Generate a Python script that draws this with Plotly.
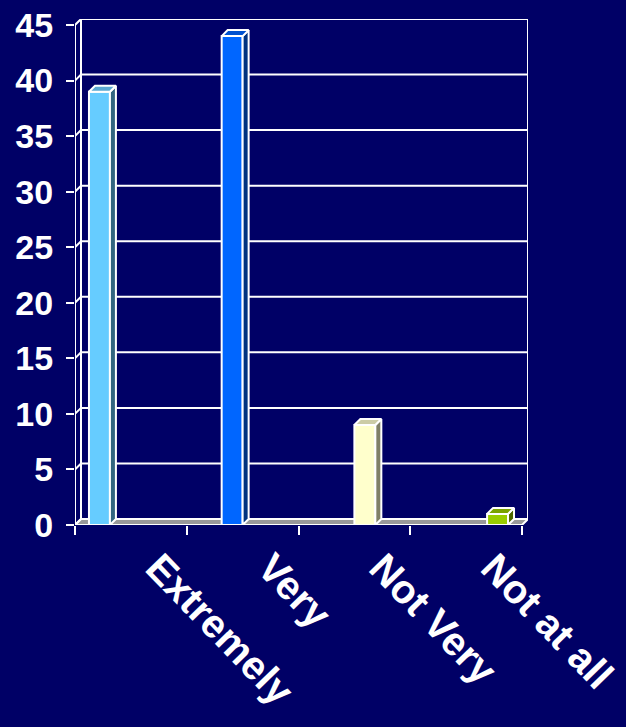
import plotly.graph_objects as go

# ---- data ----
categories = ["Extremely", "Very", "Not Very", "Not at all"]
values = [39, 44, 9, 1]
y_ticks = [0, 5, 10, 15, 20, 25, 30, 35, 40, 45]

front_colors = ["#66CCFF", "#0066FF", "#FFFFCC", "#99CC00"]
top_colors = ["#5AA8D2", "#0052D0", "#CCCCA6", "#7AA300"]
side_colors = ["#336680", "#003380", "#808066", "#4D6600"]

BG = "#000066"
FONT = "Liberation Sans, Arial, sans-serif"

# geometry (pixels)
L, T = 75, 19
FRONT_W, FRONT_H, DEPTH = 447, 500, 6
W, H = 626, 727
n = len(categories)
YMAX = 45
DX = DEPTH * n / FRONT_W
DY = DEPTH * YMAX / FRONT_H
BARGAP = 0.25
bw = (1 - BARGAP) / n

fig = go.Figure()

# front faces via bar traces (grouped)
for i, cat in enumerate(categories):
    yv = [None] * n
    yv[i] = values[i]
    fig.add_trace(go.Bar(
        x=list(range(n)), y=yv, name=cat,
        marker=dict(color=front_colors[i], line=dict(color="white", width=2)),
        hoverinfo="skip", showlegend=False))

# 3D top and side faces
for i, v in enumerate(values):
    x0 = i - (1 - BARGAP) / 2 + bw * i
    x1 = x0 + bw
    fig.add_trace(go.Scatter(
        x=[x1, x1 + DX, x1 + DX, x1, x1], y=[0, DY, v + DY, v, 0],
        mode="lines", fill="toself", fillcolor=side_colors[i],
        line=dict(color="white", width=2), hoverinfo="skip", showlegend=False))
    fig.add_trace(go.Scatter(
        x=[x0, x1, x1 + DX, x0 + DX, x0], y=[v, v, v + DY, v + DY, v],
        mode="lines", fill="toself", fillcolor=top_colors[i],
        line=dict(color="white", width=2), hoverinfo="skip", showlegend=False))

xl, xr = -0.5, n - 0.5
shapes = []
# floor
shapes.append(dict(type="path", layer="below",
                   path=f"M {xl},0 L {xl+DX},{DY} L {xr+DX},{DY} L {xr},0 Z",
                   fillcolor="#999999", line=dict(color="white", width=2)))
# gridlines (back wall + side wall)
for v in y_ticks:
    shapes.append(dict(type="path", layer="below",
                       path=f"M {xl},{v} L {xl+DX},{v+DY} L {xr+DX},{v+DY}",
                       line=dict(color="white", width=2)))
# walls' vertical edges
shapes.append(dict(type="line", layer="below", x0=xl + DX, x1=xl + DX, y0=DY, y1=YMAX + DY,
                   line=dict(color="white", width=2)))
shapes.append(dict(type="line", layer="below", x0=xr + DX, x1=xr + DX, y0=DY, y1=YMAX + DY,
                   line=dict(color="white", width=2)))
shapes.append(dict(type="line", layer="below", x0=xl, x1=xl, y0=0, y1=YMAX,
                   line=dict(color="white", width=2)))
shapes.append(dict(type="line", layer="below", x0=xl, x1=xr, y0=0, y1=0,
                   line=dict(color="white", width=2)))

fig.update_layout(
    width=W, height=H,
    margin=dict(l=L, r=W - L - FRONT_W - DEPTH, t=T, b=H - T - FRONT_H - DEPTH, pad=0,
                autoexpand=False),
    paper_bgcolor=BG, plot_bgcolor=BG,
    barmode="group", bargap=BARGAP, bargroupgap=0,
    shapes=shapes,
    xaxis=dict(range=[xl, xr + DX], tickvals=list(range(n)), ticktext=categories,
               tickangle=46, ticks="", showgrid=False, zeroline=False, showline=False,
               automargin=False, fixedrange=True, ticklabeloverflow="allow",
               ticklabelstandoff=10, ticklabelshift=27,
               tickfont=dict(family=FONT, size=40, color="white", weight="bold"),
               minor=dict(tickvals=[xl + k for k in range(n + 1)], ticks="outside",
                          ticklen=9, tickwidth=2, tickcolor="white", showgrid=False)),
    yaxis=dict(range=[0, YMAX + DY], tickvals=y_ticks, ticks="outside", ticklen=8,
               tickwidth=2, tickcolor="white", showgrid=False, zeroline=False,
               showline=False, ticklabelstandoff=6, automargin=False, fixedrange=True,
               tickfont=dict(family=FONT, size=34, color="white", weight="bold")),
)

fig.write_html("out.html", config={"displayModeBar": False},
               post_script="document.body.style.margin='0px';"
                           "document.body.style.background='#000066';")
